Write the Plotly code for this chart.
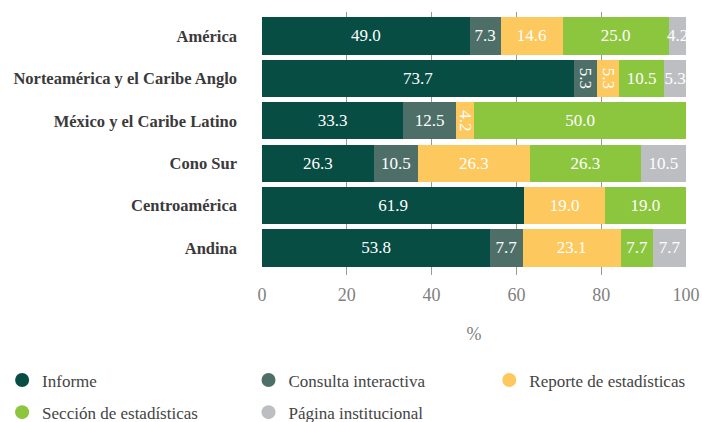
import plotly.graph_objects as go

categories = ["América", "Norteamérica y el Caribe Anglo", "México y el Caribe Latino",
              "Cono Sur", "Centroamérica", "Andina"]
informe = [49.0, 73.7, 33.3, 26.3, 61.9, 53.8]
consulta = [7.3, 5.3, 12.5, 10.5, None, 7.7]
reporte = [14.6, 5.3, 4.2, 26.3, 19.0, 23.1]
seccion = [25.0, 10.5, 50.0, 26.3, 19.0, 7.7]
pagina = [4.2, 5.3, None, 10.5, None, 7.7]
x_ticks = [0, 20, 40, 60, 80, 100]

series = [
    ("Informe", informe, "#074d44", "legend", None),
    ("Consulta interactiva", consulta, "#4e6f68", "legend2", None),
    ("Reporte de estadísticas", reporte, "#fdc85e", "legend3", None),
    ("Sección de estadísticas", seccion, "#8cc63f", "legend", None),
    ("Página institucional", pagina, "#bdbec1", "legend2", 0),
]

FONT = "Liberation Serif"
fig = go.Figure()
for name, vals, col, lg, ang in series:
    bar = go.Bar(
        y=categories, x=vals, orientation="h", name=name,
        marker=dict(color=col, line=dict(width=0)),
        texttemplate="%{x:.1f}", textposition="inside", insidetextanchor="middle",
        insidetextfont=dict(color="white", size=17, family=FONT),
        constraintext="none", showlegend=False, hoverinfo="skip",
    )
    if ang is not None:
        bar.textangle = ang
    fig.add_trace(bar)
for name, vals, col, lg, ang in series:
    fig.add_trace(go.Scatter(
        x=[None], y=[None], mode="markers", name=name, legendgroup=name,
        marker=dict(color=col, size=14, symbol="circle"),
        legend=lg,
    ))

leg_common = dict(orientation="v", xref="container", yref="container",
                  xanchor="left", yanchor="top",
                  y=0.141, tracegroupgap=7, bgcolor="rgba(0,0,0,0)",
                  font=dict(size=17, color="#444", family=FONT))

fig.update_layout(
    barmode="stack", bargap=0.127,
    width=702, height=422,
    margin=dict(l=262, r=16, t=12, b=147, autoexpand=False),
    plot_bgcolor="white", paper_bgcolor="white",
    font=dict(family=FONT, color="#444"),
    xaxis=dict(range=[0, 100], tickvals=x_ticks, showgrid=True, gridcolor="#9a9a9a",
               gridwidth=1, zeroline=False, showline=False, ticks="",
               tickfont=dict(size=18, color="#808080", family=FONT),
               ticklabelstandoff=7,
               title=dict(text="%", font=dict(size=18, color="#808080", family=FONT), standoff=23),
               fixedrange=True),
    yaxis=dict(range=[5.637, -0.566], showgrid=False, zeroline=False, showline=False,
               ticks="", ticklabelstandoff=24, fixedrange=True,
               tickfont=dict(size=16.5, color="#3a3a3a", family=FONT, weight="bold")),
    legend=dict(x=0.003, **leg_common),
    legend2=dict(x=0.354, **leg_common),
    legend3=dict(x=0.697, **leg_common),
)
fig.write_html("out.html", config={"displayModeBar": False},
               post_script="document.body.style.margin='0';")
